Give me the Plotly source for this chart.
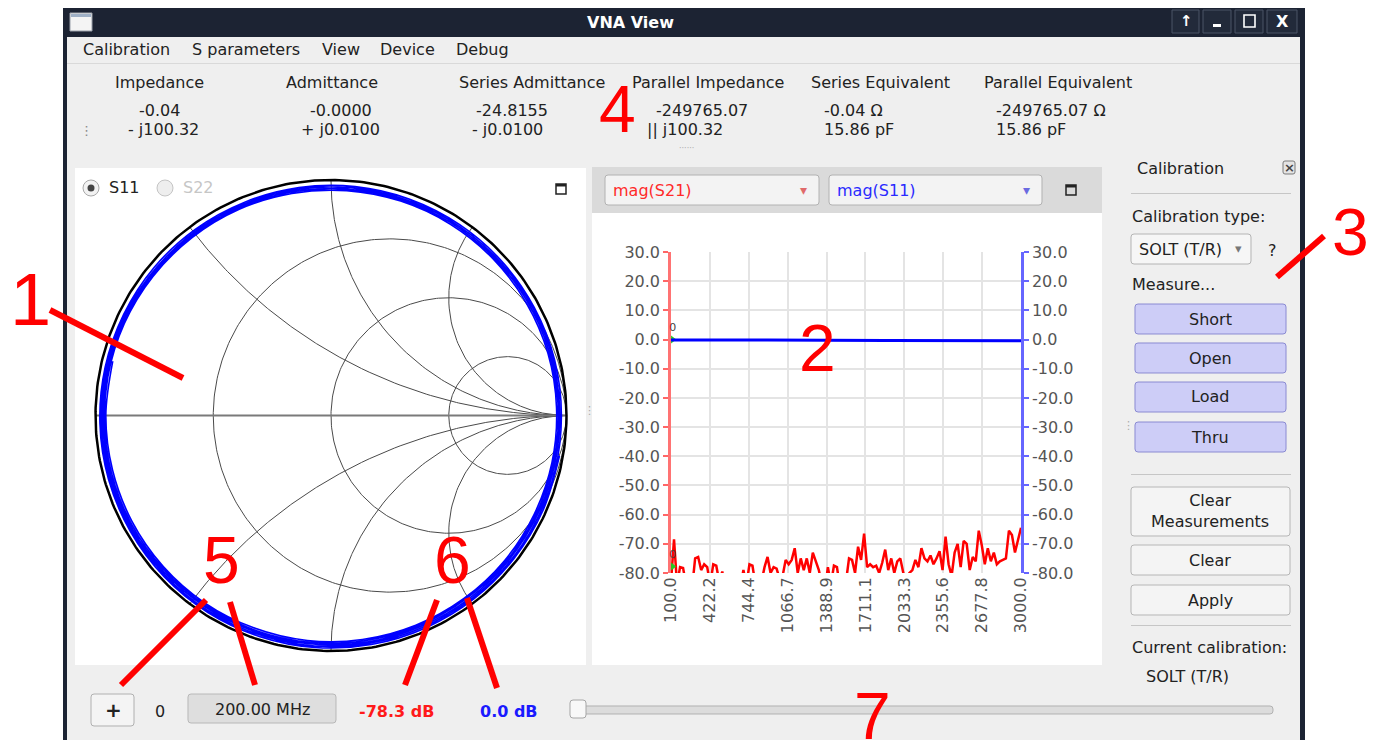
import numpy as np
import plotly.graph_objects as go

W, H = 1376, 740
OX, OY = 8, 8  # page body margin compensation

# ---------------- data ----------------
freq_mhz = [100, 125, 150, 175, 200, 225, 250, 275, 300, 325,
            350, 375, 400, 425, 450, 475, 500, 525, 550, 575,
            600, 625, 650, 675, 700, 725, 750, 775, 800, 825,
            850, 875, 900, 925, 950, 975, 1000, 1025, 1050, 1075,
            1100, 1125, 1150, 1175, 1200, 1225, 1250, 1275, 1300, 1325,
            1350, 1375, 1400, 1425, 1450, 1475, 1500, 1525, 1550, 1575,
            1600, 1625, 1650, 1675, 1700, 1725, 1750, 1775, 1800, 1825,
            1850, 1875, 1900, 1925, 1950, 1975, 2000, 2025, 2050, 2075,
            2100, 2125, 2150, 2175, 2200, 2225, 2250, 2275, 2300, 2325,
            2350, 2375, 2400, 2425, 2450, 2475, 2500, 2525, 2550, 2575,
            2600, 2625, 2650, 2675, 2700, 2725, 2750, 2775, 2800, 2825,
            2850, 2875, 2900, 2925, 2950, 2975, 3000]

s21_db = [-83, -68.5, -84, -78, -78.3, -84, -86, -85, -75, -74.5,
          -79, -77, -78, -84, -77, -77.5, -83, -79.5, -86, -88,
          -85, -86, -84, -85, -79, -84, -77, -77.5, -84, -86,
          -83, -78, -74.5, -80, -78, -78.5, -82, -81, -75.5, -77,
          -75.5, -71.5, -80, -75, -79, -75, -80, -73, -76, -79,
          -84, -86, -78, -84, -77.5, -78, -85, -86, -83, -75,
          -75.5, -80, -71, -75.5, -66.5, -78, -77, -78, -77.5, -80,
          -76.5, -72, -79, -75, -80, -76, -75, -80, -82, -80,
          -79, -75.5, -78, -71.5, -75, -76, -74, -77, -75, -72.5,
          -79, -67.5, -77, -81, -73, -70, -78, -69, -70, -79,
          -74.5, -76, -65.5, -70.5, -77, -71.5, -76, -73, -77, -76,
          -75.5, -75, -65.5, -67, -73, -69, -64.5]

s11_db = [-0.13, -0.12, -0.12, -0.11, -0.11, -0.11, -0.11, -0.12, -0.12, -0.13,
          -0.14, -0.15, -0.16, -0.17, -0.18, -0.18, -0.19, -0.20, -0.20, -0.20,
          -0.20, -0.20, -0.20, -0.20, -0.19, -0.19, -0.18, -0.18, -0.17, -0.17,
          -0.17, -0.17, -0.17, -0.18, -0.18, -0.19, -0.20, -0.21, -0.22, -0.23,
          -0.24, -0.25, -0.25, -0.26, -0.26, -0.26, -0.26, -0.26, -0.26, -0.25,
          -0.25, -0.25, -0.24, -0.24, -0.23, -0.23, -0.23, -0.23, -0.23, -0.24,
          -0.25, -0.25, -0.26, -0.27, -0.28, -0.29, -0.30, -0.31, -0.31, -0.32,
          -0.32, -0.32, -0.32, -0.32, -0.32, -0.31, -0.31, -0.30, -0.30, -0.29,
          -0.29, -0.29, -0.29, -0.29, -0.29, -0.30, -0.31, -0.31, -0.32, -0.33,
          -0.34, -0.35, -0.36, -0.37, -0.37, -0.38, -0.38, -0.38, -0.38, -0.38,
          -0.38, -0.37, -0.37, -0.36, -0.36, -0.35, -0.35, -0.35, -0.35, -0.35,
          -0.36, -0.36, -0.37, -0.38, -0.39, -0.39, -0.40]

s11_phase_deg = [-10, -24, -38, -52, -66, -80, -94, -108, -122, -136,
                 -150, -164, -178, -192, -206, -220, -234, -248, -262, -276,
                 -290, -304, -318, -332, -346, -360, -374, -388, -402, -416,
                 -430, -444, -458, -472, -486, -500, -514, -528, -542, -556,
                 -570, -584, -598, -612, -626, -640, -654, -668, -682, -696,
                 -710, -724, -738, -752, -766, -780, -794, -808, -822, -836,
                 -850, -864, -878, -892, -906, -920, -934, -948, -962, -976,
                 -990, -1004, -1018, -1032, -1046, -1060, -1074, -1088, -1102, -1116,
                 -1130, -1144, -1158, -1172, -1186, -1200, -1214, -1228, -1242, -1256,
                 -1270, -1284, -1298, -1312, -1326, -1340, -1354, -1368, -1382, -1396,
                 -1410, -1424, -1438, -1452, -1466, -1480, -1494, -1508, -1522, -1536,
                 -1550, -1564, -1578, -1592, -1606, -1620, -1634]

x_tick_labels = ["100.0", "422.2", "744.4", "1066.7", "1388.9",
                 "1711.1", "2033.3", "2355.6", "2677.8", "3000.0"]
y_tick_labels = ["30.0", "20.0", "10.0", "0.0", "-10.0", "-20.0",
                 "-30.0", "-40.0", "-50.0", "-60.0", "-70.0", "-80.0"]

smith_r_circles = [1 / 3, 1, 3]
smith_x_arcs = [0.5, 1, 2, -0.5, -1, -2]

marker_freq = 115
marker_s21 = -77.8
marker_s11 = 0.0
marker_label = "0"

menu_items = ["Calibration", "S parameters", "View", "Device", "Debug"]
info_headers = ["Impedance", "Admittance", "Series Admittance",
                "Parallel Impedance", "Series Equivalent", "Parallel Equivalent"]
info_line1 = ["-0.04", "-0.0000", "-24.8155", "-249765.07", "-0.04 Ω", "-249765.07 Ω"]
info_line2 = ["- j100.32", "+ j0.0100", "- j0.0100", "|| j100.32", "15.86 pF", "15.86 pF"]
cal_buttons = ["Short", "Open", "Load", "Thru"]
callout_numbers = ["1", "2", "3", "4", "5", "6", "7"]

# ---------------- helpers ----------------
FONT = "DejaVu Sans"
shapes = []
annotations = []


def px(x):
    return (x - OX) / W


def py(y):
    return 1 - (y - OY) / H


def box(x0, y0, x1, y1, fill, line=None, lw=1, r=0, layer="below"):
    if r <= 0:
        shapes.append(dict(type="rect", xref="paper", yref="paper",
                           x0=px(x0), x1=px(x1), y0=py(y1), y1=py(y0),
                           fillcolor=fill, layer=layer,
                           line=dict(color=line or fill, width=lw if line else 0)))
        return
    pts = [("M", x0 + r, y0), ("L", x1 - r, y0), ("Q", x1, y0, x1, y0 + r),
           ("L", x1, y1 - r), ("Q", x1, y1, x1 - r, y1), ("L", x0 + r, y1),
           ("Q", x0, y1, x0, y1 - r), ("L", x0, y0 + r), ("Q", x0, y0, x0 + r, y0)]
    s = ""
    for p in pts:
        if p[0] == "Q":
            s += "Q%.5f,%.5f %.5f,%.5f " % (px(p[1]), py(p[2]), px(p[3]), py(p[4]))
        else:
            s += "%s%.5f,%.5f " % (p[0], px(p[1]), py(p[2]))
    s += "Z"
    shapes.append(dict(type="path", xref="paper", yref="paper", path=s,
                       fillcolor=fill, layer=layer,
                       line=dict(color=line or fill, width=lw if line else 0)))


def seg(x0, y0, x1, y1, color, width=1, layer="below"):
    shapes.append(dict(type="line", xref="paper", yref="paper",
                       x0=px(x0), x1=px(x1), y0=py(y0), y1=py(y1), layer=layer,
                       line=dict(color=color, width=width)))


def txt(x, y, s, size=16, color="#222222", anchor="left", bold=False, family=FONT,
        align="left"):
    annotations.append(dict(x=px(x), y=py(y), xref="paper", yref="paper",
                            text=("<b>%s</b>" % s) if bold else s, showarrow=False,
                            xanchor=anchor, yanchor="middle", align=align,
                            font=dict(family=family, size=size, color=color)))


# ---------------- window chrome ----------------
box(63, 8, 1305, 760, "#1c2333")
box(67, 37, 1300, 760, "#efefef")
# title icon
box(70, 13, 92, 31, "#f4f4f4", "#9aa0aa", 1)
box(71, 14, 91, 17, "#9fb0c6")
txt(630, 22, "VNA View", size=16, color="#ffffff", anchor="center", bold=True)
# title buttons
for (bx0, bx1) in [(1172, 1199), (1203, 1231), (1235, 1263), (1267, 1297)]:
    box(bx0, 10, bx1, 33, "#222a3a", "#4b5466", 1)
txt(1186, 21, "↑", size=15, color="#ffffff", anchor="center", bold=True)
box(1213, 24, 1221, 27, "#ffffff")
box(1244, 15, 1255, 27, "rgba(0,0,0,0)", "#ffffff", 1.6)
txt(1282, 21, "X", size=16, color="#ffffff", anchor="center", bold=True)

# menu
menu_x = [82, 191, 321, 379, 455]
for m, mx in zip(menu_items, menu_x):
    txt(mx - 1, 50, m, size=16)
seg(67, 63.5, 1300, 63.5, "#d9d9d9", 1)

# info area
head_x = [159, 332, 532, 708, 880, 1058]
l1_x = [138, 309, 475, 655, 823, 995]
l2_x = [127, 300, 471, 646, 823, 995]
for hname, hx in zip(info_headers, head_x):
    txt(hx, 83, hname, size=16, anchor="center")
for v, vx in zip(info_line1, l1_x):
    txt(vx - 1, 110, v, size=16)
for v, vx in zip(info_line2, l2_x):
    txt(vx - 1, 130, v, size=16)
txt(86, 131, "⋮", size=13, color="#888888", anchor="center")
txt(686, 148, "······", size=8, color="#aaaaaa", anchor="center")

# ---------------- panels ----------------
box(75, 168, 586, 665, "#ffffff")
box(592, 167, 1102, 213, "#dadada")
box(592, 213, 1102, 665, "#ffffff")
txt(589, 410, "⋮", size=11, color="#aaaaaa", anchor="center")
txt(1128, 425, "⋮", size=11, color="#aaaaaa", anchor="center")

# smith header
shapes.append(dict(type="circle", xref="paper", yref="paper", x0=px(83), x1=px(99),
                   y0=py(196), y1=py(180), fillcolor="#f2f2f2", layer="below",
                   line=dict(color="#a8a8a8", width=1)))
shapes.append(dict(type="circle", xref="paper", yref="paper", x0=px(87.5), x1=px(94.5),
                   y0=py(191.5), y1=py(184.5), fillcolor="#444444", layer="below",
                   line=dict(color="#444444", width=0)))
txt(107, 188, "S11", size=16, color="#222222")
shapes.append(dict(type="circle", xref="paper", yref="paper", x0=px(157), x1=px(173),
                   y0=py(196), y1=py(180), fillcolor="#eeeeee", layer="below",
                   line=dict(color="#c4c4c4", width=1)))
txt(181, 188, "S22", size=16, color="#c6c6c6")
box(556, 184, 566, 194, "rgba(0,0,0,0)", "#222222", 1.5)
box(556, 184, 566, 186.5, "#222222")

# plot header combos
box(605, 175, 819, 205, "#f3f3f3", "#b2b2b2", 1, r=3)
txt(611, 190, "mag(S21)", size=16, color="#ff2a2a")
txt(803, 190, "▾", size=14, color="#e06a6a", anchor="center")
box(829, 175, 1042, 205, "#f3f3f3", "#b2b2b2", 1, r=3)
txt(835, 190, "mag(S11)", size=16, color="#2a2aff")
txt(1026, 190, "▾", size=14, color="#6a6ae0", anchor="center")
box(1066, 185, 1076, 195, "rgba(0,0,0,0)", "#222222", 1.5)
box(1066, 185, 1076, 187.5, "#222222")

# ---------------- calibration dock ----------------
txt(1135, 168, "Calibration", size=16)
box(1283, 161, 1295, 174, "#e4e4e4", "#7a7a7a", 1, r=2)
txt(1289, 167.5, "×", size=13, color="#444444", anchor="center", bold=True)
seg(1131, 193.5, 1291, 193.5, "#c6c6c6", 1.2)
txt(1130, 216, "Calibration type:", size=16)
box(1131, 234, 1251, 264, "#f6f6f6", "#b4b4b4", 1, r=3)
txt(1137, 249, "SOLT (T/R)", size=16)
box(1222, 236, 1232, 262, "#f6f6f6")
txt(1238, 248, "▾", size=13, color="#777777", anchor="center")
txt(1272, 250, "?", size=16, anchor="center")
txt(1130, 284, "Measure...", size=16)
for name, cy in zip(cal_buttons, [319, 358, 397, 437]):
    box(1135, cy - 15, 1286, cy + 15, "#cdcdf7", "#8a8ad2", 1, r=3)
    txt(1210, cy, name, size=16, anchor="center")
seg(1131, 474.5, 1291, 474.5, "#c6c6c6", 1.2)
box(1131, 487, 1290, 536, "#f4f4f4", "#b6b6b6", 1, r=3)
txt(1210, 511, "Clear<br>Measurements", size=16, anchor="center", align="center")
box(1131, 545, 1290, 575, "#f4f4f4", "#b6b6b6", 1, r=3)
txt(1210, 560, "Clear", size=16, anchor="center")
box(1131, 585, 1290, 615, "#f4f4f4", "#b6b6b6", 1, r=3)
txt(1210, 600, "Apply", size=16, anchor="center")
seg(1131, 625.5, 1291, 625.5, "#c6c6c6", 1.2)
txt(1130, 647, "Current calibration:", size=16)
txt(1144, 676, "SOLT (T/R)", size=16)

# ---------------- bottom bar ----------------
box(91, 694, 134, 726, "#f4f4f4", "#b0b0b0", 1, r=3)
txt(113, 710, "+", size=20, anchor="center", bold=True)
txt(160, 711, "0", size=16, anchor="center")
box(188, 694, 336, 723, "#dedede", "#b8b8b8", 1, r=3)
txt(262, 709, "200.00 MHz", size=16, anchor="center")
txt(396, 711, "-78.3 dB", size=16, color="#ff1a1a", anchor="center", bold=True)
txt(509, 711, "0.0 dB", size=16, color="#1a1aff", anchor="center", bold=True)
box(571, 706, 1273, 714, "#dcdcdc", "#b2b2b2", 1, r=3)
box(570, 700, 586, 718, "#f8f8f8", "#a6a6a6", 1, r=3)

# ---------------- traces ----------------
fig = go.Figure()

# Smith chart grid
th = np.linspace(0, 2 * np.pi, 361)
for r in smith_r_circles:
    c, rad = r / (1 + r), 1 / (1 + r)
    fig.add_trace(go.Scatter(x=c + rad * np.cos(th), y=rad * np.sin(th), mode="lines",
                             line=dict(color="#4a4a4a", width=1), xaxis="x2", yaxis="y2",
                             hoverinfo="skip"))
rr = np.concatenate([np.linspace(0, 1, 120), np.linspace(1, 12, 120), np.linspace(12, 800, 120)])
for xv in smith_x_arcs:
    z = rr + 1j * xv
    g = (z - 1) / (z + 1)
    fig.add_trace(go.Scatter(x=g.real, y=g.imag, mode="lines",
                             line=dict(color="#4a4a4a", width=1), xaxis="x2", yaxis="y2",
                             hoverinfo="skip"))
fig.add_trace(go.Scatter(x=[-1, 1], y=[0, 0], mode="lines",
                         line=dict(color="#7a7a7a", width=2), xaxis="x2", yaxis="y2",
                         hoverinfo="skip"))
fig.add_trace(go.Scatter(x=np.cos(th), y=np.sin(th), mode="lines",
                         line=dict(color="#000000", width=2.5), xaxis="x2", yaxis="y2",
                         hoverinfo="skip"))
mag = 10 ** (np.array(s11_db) / 20.0)
ph = np.radians(np.array(s11_phase_deg))
fig.add_trace(go.Scatter(x=mag * np.cos(ph), y=mag * np.sin(ph), mode="lines",
                         line=dict(color="#0000ff", width=1.6, shape="spline", smoothing=1.0),
                         xaxis="x2", yaxis="y2", hoverinfo="skip"))

# magnitude plot
fig.add_trace(go.Scatter(x=freq_mhz, y=s21_db, mode="lines",
                         line=dict(color="#ff0000", width=2.5), xaxis="x3", yaxis="y3",
                         hoverinfo="skip"))
fig.add_trace(go.Scatter(x=freq_mhz, y=s11_db, mode="lines",
                         line=dict(color="#0000ff", width=3), xaxis="x3", yaxis="y4",
                         hoverinfo="skip"))
fig.add_trace(go.Scatter(x=[marker_freq, marker_freq], y=[marker_s11, marker_s21],
                         mode="markers+text", text=[marker_label, marker_label],
                         textposition="top center",
                         textfont=dict(family=FONT, size=11, color="#444444"),
                         marker=dict(symbol="triangle-right", size=7, color="#22cc22"),
                         xaxis="x3", yaxis="y3", hoverinfo="skip", cliponaxis=False))

# ---------------- callouts (red) ----------------
RED = "#ff0000"
for (a, b, c, d) in [(50, 310, 183, 378), (1277, 277, 1324, 236),
                     (121, 685, 206, 600), (230, 602, 255, 685),
                     (405, 685, 437, 600), (467, 598, 497, 688)]:
    seg(a, b, c, d, RED, 6, layer="above")
num_pos = [(30, 299, 74), (817, 348, 66), (1350, 232, 66), (617, 109, 66),
           (221, 560, 66), (452, 560, 66), (872, 716, 66)]
for n, (nx, ny, ns) in zip(callout_numbers, num_pos):
    txt(nx, ny, n, size=ns, color=RED, anchor="center", family="Liberation Sans")

tick_font = dict(family=FONT, size=16, color="#555555")
y_vals = [float(v) for v in y_tick_labels]
x_vals = [float(v) for v in x_tick_labels]

cx, cy, R = 331, 415.5, 235.5
fig.update_layout(
    width=W, height=H, autosize=False,
    margin=dict(l=0, r=0, t=0, b=0, pad=0, autoexpand=False),
    paper_bgcolor="#ffffff", plot_bgcolor="rgba(0,0,0,0)",
    showlegend=False, hovermode=False,
    shapes=shapes, annotations=annotations,
    xaxis2=dict(domain=[px(cx - 1.1 * R), px(cx + 1.1 * R)], range=[-1.1, 1.1],
                visible=False, fixedrange=True, anchor="y2", automargin=False),
    yaxis2=dict(domain=[py(cy + 1.1 * R), py(cy - 1.1 * R)], range=[-1.1, 1.1],
                visible=False, fixedrange=True, anchor="x2", automargin=False),
    xaxis3=dict(domain=[px(671), px(1021)], range=[100, 3000], anchor="y3",
                tickmode="array", tickvals=x_vals, ticktext=x_tick_labels,
                tickangle=-90, showgrid=True, gridcolor="#e4e4e4", gridwidth=2,
                zeroline=False, showline=False, ticks="", tickfont=tick_font,
                fixedrange=True, automargin=False),
    yaxis3=dict(domain=[py(573), py(252)], range=[-80, 30], anchor="x3",
                tickmode="array", tickvals=y_vals, ticktext=y_tick_labels,
                showline=True, linecolor="rgba(255,0,0,0.55)", linewidth=2.5,
                ticks="outside", ticklen=5, tickwidth=2, tickcolor="rgba(255,0,0,0.6)",
                showgrid=True, gridcolor="#e4e4e4", gridwidth=2, zeroline=False,
                tickfont=tick_font, fixedrange=True, automargin=False),
    yaxis4=dict(overlaying="y3", side="right", anchor="x3", range=[-80, 30],
                tickmode="array", tickvals=y_vals, ticktext=y_tick_labels,
                showline=True, linecolor="rgba(0,0,255,0.6)", linewidth=2.5,
                ticks="outside", ticklen=5, tickwidth=2, tickcolor="rgba(0,0,255,0.6)",
                showgrid=False, zeroline=False, tickfont=tick_font, fixedrange=True,
                automargin=False),
)

fig.write_html("out.html")
